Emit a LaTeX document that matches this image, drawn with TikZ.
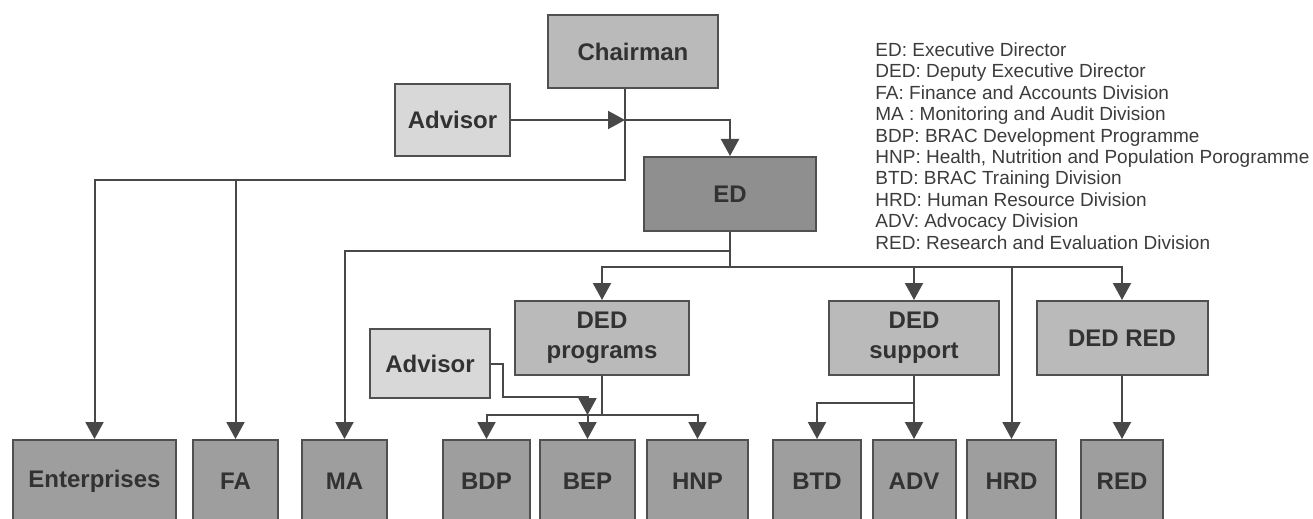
\documentclass[tikz,border=0pt]{standalone}
\usepackage{fontspec}
\setmainfont{Liberation Sans}
\usetikzlibrary{arrows.meta}

\definecolor{boxlight}{RGB}{216,216,216}
\definecolor{boxmid}{RGB}{186,186,186}
\definecolor{boxdark}{RGB}{143,143,143}
\definecolor{boxunit}{RGB}{158,158,158}
\definecolor{boxedge}{RGB}{80,80,80}
\definecolor{boxtext}{RGB}{50,50,50}
\definecolor{linegray}{RGB}{72,72,72}
\definecolor{legendtext}{RGB}{60,60,60}

\begin{document}
\begin{tikzpicture}[%
      x=0.5pt, y=-0.5pt,
      box/.style={draw=boxedge, line width=1pt, text=boxtext, align=center, inner sep=0pt,
        font=\bfseries\fontsize{12}{15}\selectfont},
      unit/.style={box, fill=boxunit, minimum height=41.5pt},
      conn/.style={color=linegray, line width=1pt},
      arr/.style={conn, -{Triangle[width=9pt,length=8.5pt]}},
      legline/.style={font=\fontsize{9.5}{10.7}\selectfont, text=legendtext, inner sep=0pt, anchor=base west},
      ]
      \useasboundingbox (0,0) rectangle (1313,519);
      \fill [white] (0,0) rectangle (1313,519);
      \clip (0,0) rectangle (1313,519);

      % top of the chart
      \node[box, fill=boxmid, minimum width=85pt, minimum height=36.5pt] (chair) at (633,51.5) {Chairman};
      \node[box, fill=boxlight, minimum width=57.5pt, minimum height=36pt] (adv1) at (452.5,120) {Advisor};
      \node[box, fill=boxdark, minimum width=86pt, minimum height=37pt] (ed) at (730,194) {ED};

      % deputies
      \node[box, fill=boxmid, minimum width=87pt, minimum height=37pt] (dedp) at (602,338) {DED\\programs};
      \node[box, fill=boxmid, minimum width=85pt, minimum height=37pt] (deds) at (914,338) {DED\\support};
      \node[box, fill=boxmid, minimum width=85.5pt, minimum height=37pt] (dedr) at (1122,338) {DED RED};
      \node[box, fill=boxlight, minimum width=60pt, minimum height=34.5pt] (adv2) at (430,363.5) {Advisor};

      % divisions
      \node[unit, minimum width=81.5pt] (ent) at (94.5,481.5) {Enterprises};
      \node[unit, minimum width=42.5pt] (fa) at (235.5,481.5) {FA};
      \node[unit, minimum width=42.5pt] (ma) at (344.5,481.5) {MA};
      \node[unit, minimum width=43.5pt] (bdp) at (486.5,481.5) {BDP};
      \node[unit, minimum width=47.5pt] (bep) at (587.5,481.5) {BEP};
      \node[unit, minimum width=50.5pt] (hnp) at (697.5,481.5) {HNP};
      \node[unit, minimum width=44pt] (btd) at (817,481.5) {BTD};
      \node[unit, minimum width=41.5pt] (adv) at (914,481.5) {ADV};
      \node[unit, minimum width=44.5pt] (hrd) at (1011.5,481.5) {HRD};
      \node[unit, minimum width=41pt] (red) at (1122,481.5) {RED};

      \coordinate (cj) at (625,120);
      \coordinate (cbus) at (625,180);
      \coordinate (emid) at (730,251);
      \coordinate (elow) at (730,267);
      \coordinate (pbus) at (602,415);
      \coordinate (abend) at (587.5,397);
      \coordinate (sbus) at (914,403);

      \draw[conn] (cj |- chair.south) -- (cj);
      \draw[arr] (cj) -| (ed.north);
      \draw[arr] (adv1.east) -- (cj);
      \draw[arr] (cj) -- (cbus) -| (ent.north);
      \draw[arr] (fa.north |- cbus) -- (fa.north);

      \draw[arr] (ed.south) -- (emid) -| (ma.north);
      \draw[conn] (emid) -- (elow);
      \draw[arr] (elow) -| (dedp.north);
      \draw[arr] (elow) -| (dedr.north);
      \draw[arr] (deds.north |- elow) -- (deds.north);
      \draw[arr] (hrd.north |- elow) -- (hrd.north);

      \draw[conn] (dedp.south) -- (pbus);
      \draw[arr] (pbus) -| (bdp.north);
      \draw[arr] (pbus) -| (hnp.north);
      \draw[arr] (bep.north |- pbus) -- (bep.north);
      \draw[arr] (adv2.east) -- ++(12,0) |- (abend) -- (bep.north |- pbus);

      \draw[conn] (deds.south) -- (sbus);
      \draw[arr] (sbus) -- (adv.north);
      \draw[arr] (sbus) -| (btd.north);
      \draw[arr] (dedr.south) -- (red.north);

      % abbreviations
      \node[legline] (l1) at (875,56.5) {ED: Executive Director};
      \node[legline] (l2) at (875,77.9) {DED: Deputy Executive Director};
      \node[legline] (l3) at (875,99.3) {FA: Finance and Accounts Division};
      \node[legline] (l4) at (875,120.7) {MA : Monitoring and Audit Division};
      \node[legline] (l5) at (875,142.1) {BDP: BRAC Development Programme};
      \node[legline] (l6) at (875,163.5) {HNP: Health, Nutrition and Population Porogramme};
      \node[legline] (l7) at (875,184.9) {BTD: BRAC Training Division};
      \node[legline] (l8) at (875,206.3) {HRD: Human Resource Division};
      \node[legline] (l9) at (875,227.7) {ADV: Advocacy Division};
      \node[legline] (l10) at (875,249.1) {RED: Research and Evaluation Division};
      \end{tikzpicture}
\end{document}
